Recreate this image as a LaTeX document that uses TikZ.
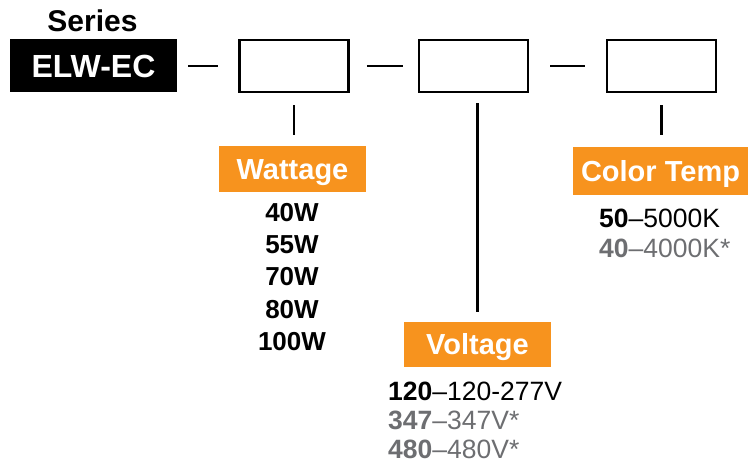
\documentclass[tikz,border=0pt]{standalone}
\usepackage{fontspec}
\setmainfont{Liberation Sans}
\usepackage{tikz}
\usetikzlibrary{positioning}
\definecolor{lwOrange}{HTML}{F7931E}
\definecolor{lwGray}{HTML}{6D6E71}
\newcommand{\pxfont}[1]{\fontsize{#1}{#1}\selectfont}
\tikzset{
    x=1pt, y=-1pt, % one unit is one pixel of the sheet, y runs downwards
    slot/.style={draw, line width=2.8pt, minimum width=109pt, minimum height=52pt, inner sep=0pt}, % the empty boxes of the part number
    head/.style={fill=lwOrange, text=white, font=\pxfont{29}\bfseries, inner sep=0pt, text height=20.5pt, text depth=0pt, minimum height=46pt}, % orange headings
    item/.style={font=\pxfont{26.5}, inner sep=0pt}, % option lines
    link/.style={line width=2.2pt}, % short rules between the boxes
}
\begin{document}
\begin{tikzpicture}
    \useasboundingbox (0,0) rectangle (750,465);
    \node[font=\pxfont{30}\bfseries, anchor=base, inner sep=0pt] (serieslabel) at (92.5,32) {Series};
    \node[fill=black, text=white, font=\pxfont{32}\bfseries, minimum width=167pt, minimum height=53pt, inner sep=0pt, text height=23pt, text depth=0pt] (series) at (93.5,66) {ELW-EC};
    \node[slot] (b1) at (294,66) {};
    \node[slot] (b2) at (473.5,66) {};
    \node[slot] (b3) at (661.5,66) {};
    \node[head, minimum width=147pt] (watt) at (292.5,169) {Wattage};
    \node[head, minimum width=147pt, minimum height=45pt] (volt) at (477.5,344.5) {Voltage};
    \node[head, minimum width=175pt, minimum height=48pt] (temp) at (660.5,171) {Color Temp};
    \draw[link, shorten <=11pt, shorten >=20pt] (series) -- (b1);
    \draw[link, shorten <=17pt, shorten >=15pt] (b1) -- (b2);
    \draw[link, shorten <=21pt, shorten >=21pt] (b2) -- (b3);
    \draw[link, shorten <=12pt, shorten >=11pt] (b1.south) -- (b1.south |- watt.north);
    \draw[link, shorten <=10pt, shorten >=10pt] (volt.north |- b2.south) -- (volt.north);
    \draw[link, shorten <=12pt, shorten >=12pt] (b3.south) -- (b3.south |- temp.north);
    % wattage
    \node[item, font=\pxfont{26}\bfseries, anchor=base] (w40) at (292,222) {40W};
    \node[item, font=\pxfont{26}\bfseries, below=32pt of w40.base, anchor=base] (w55) {55W};
    \node[item, font=\pxfont{26}\bfseries, below=32pt of w55.base, anchor=base] (w70) {70W};
    \node[item, font=\pxfont{26}\bfseries, below=32pt of w70.base, anchor=base] (w80) {80W};
    \node[item, font=\pxfont{26}\bfseries, below=32pt of w80.base, anchor=base] (w100) {100W};
    % voltage
    \node[item, anchor=base west] (v120) at (388,400) {\textbf{120}--120-277V};
    \node[item, text=lwGray, below=29pt of v120.base west, anchor=base west] (v347) {\textbf{347}--347V*};
    \node[item, text=lwGray, below=29pt of v347.base west, anchor=base west] (v480) {\textbf{480}--480V*};
    % color temperature
    \node[item, anchor=base west] (t50) at (599,228) {\textbf{50}--5000K};
    \node[item, text=lwGray, below=30pt of t50.base west, anchor=base west] (t40) {\textbf{40}--4000K*};
\end{tikzpicture}
\end{document}
